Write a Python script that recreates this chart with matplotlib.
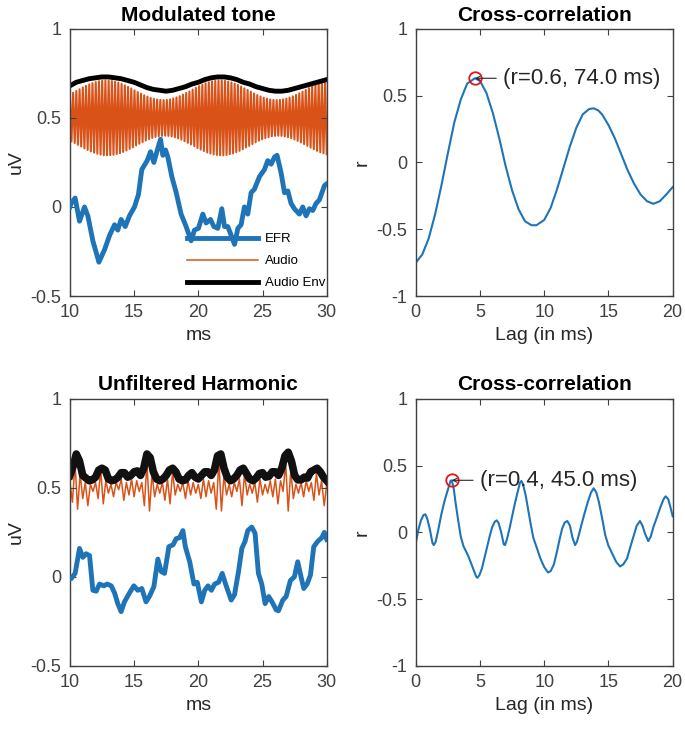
import numpy as np
import matplotlib
matplotlib.use('Agg')
import matplotlib.pyplot as plt

plt.rcParams['font.family'] = ['Liberation Sans', 'DejaVu Sans']
plt.rcParams['axes.unicode_minus'] = False

C_EFR = '#1F74B8'
C_AUDIO = '#D95319'
C_AX = '#404040'
C_TXT = '#262626'

# ---- top-left: modulated tone (ms, uV) ----
efr1_t = [10.0, 10.10, 10.41, 10.75, 11.14, 11.40, 11.79, 12.26, 12.70, 13.09, 13.48, 13.73,
          13.99, 14.31, 14.64, 15.03, 15.34, 15.60, 16.02, 16.28, 16.54, 16.85, 17.06, 17.24,
          17.45, 17.63, 17.94, 18.28, 18.66, 19.05, 19.44, 19.70, 20.01, 20.35, 20.61, 20.95,
          21.21, 21.52, 21.83, 22.04, 22.30, 22.56, 22.82, 23.08, 23.33, 23.59, 23.85, 24.11,
          24.37, 24.76, 25.15, 25.41, 25.67, 25.93, 26.13, 26.45, 26.71, 26.97, 27.22, 27.48,
          27.87, 28.13, 28.39, 28.65, 28.91, 29.17, 29.43, 29.82, 30.0]
efr1_v = [0.00, 0.02, 0.05, -0.08, 0.00, -0.05, -0.19, -0.31, -0.24, -0.16, -0.10, -0.13,
          -0.07, -0.11, -0.05, 0.00, 0.07, 0.21, 0.26, 0.31, 0.25, 0.33, 0.38, 0.29,
          0.32, 0.28, 0.17, 0.08, -0.04, -0.11, -0.19, -0.13, -0.12, -0.04, -0.09, -0.07,
          -0.11, -0.12, -0.01, -0.11, -0.11, -0.16, -0.21, -0.12, -0.10, 0.00, -0.04, 0.08,
          0.10, 0.17, 0.21, 0.26, 0.24, 0.28, 0.29, 0.19, 0.08, 0.09, 0.02, -0.01,
          -0.04, 0.00, -0.05, -0.01, -0.02, 0.02, 0.04, 0.12, 0.13]

# envelope every 0.5 ms
env1_v = [0.68, 0.70, 0.71, 0.72, 0.725, 0.73, 0.73, 0.725, 0.72, 0.71, 0.70, 0.685,
          0.67, 0.66, 0.655, 0.65, 0.655, 0.665, 0.675, 0.69, 0.70, 0.715, 0.725, 0.73,
          0.73, 0.725, 0.715, 0.70, 0.69, 0.675, 0.665, 0.655, 0.65, 0.65, 0.655, 0.665,
          0.675, 0.685, 0.695, 0.705, 0.715]

# half-swing of the carrier, one value per carrier cycle (0.25 ms)
audio1_amp = [0.132, 0.141, 0.151, 0.161, 0.171, 0.180, 0.188, 0.195, 0.201, 0.206,
              0.209, 0.210, 0.209, 0.207, 0.203, 0.198, 0.191, 0.183, 0.174, 0.165,
              0.155, 0.145, 0.136, 0.127, 0.119, 0.112, 0.107, 0.103, 0.101, 0.100,
              0.101, 0.104, 0.109, 0.115, 0.122, 0.131, 0.140, 0.149, 0.159, 0.169,
              0.178, 0.186, 0.194, 0.200, 0.205, 0.208, 0.210, 0.210, 0.208, 0.204,
              0.199, 0.192, 0.185, 0.176, 0.166, 0.157, 0.147, 0.137, 0.128, 0.120,
              0.113, 0.108, 0.103, 0.101, 0.100, 0.101, 0.104, 0.108, 0.114, 0.121,
              0.129, 0.138, 0.147, 0.157, 0.167, 0.176, 0.185, 0.193, 0.199, 0.204]
audio1_mid = 0.5

# ---- bottom-left: unfiltered harmonic ----
efr2_t = [10.0, 10.10, 10.41, 10.75, 11.01, 11.27, 11.53, 11.79, 12.05, 12.31, 12.65, 12.91,
          13.22, 13.48, 13.73, 13.99, 14.25, 14.64, 14.98, 15.29, 15.60, 15.93, 16.19, 16.54,
          16.85, 17.11, 17.37, 17.71, 18.03, 18.28, 18.54, 18.80, 18.99, 19.33, 19.66, 19.92,
          20.24, 20.50, 20.76, 21.02, 21.27, 21.58, 21.86, 22.17, 22.56, 22.82, 23.13, 23.39,
          23.64, 23.85, 24.16, 24.42, 24.68, 24.94, 25.20, 25.48, 25.74, 26.06, 26.24, 26.58,
          26.84, 27.17, 27.48, 27.74, 28.00, 28.21, 28.47, 28.73, 28.99, 29.30, 29.61, 29.82, 30.0]
efr2_v = [-0.01, -0.01, 0.02, 0.16, 0.11, 0.13, 0.12, -0.075, -0.08, -0.04, -0.05, -0.04,
          -0.05, -0.09, -0.15, -0.195, -0.14, -0.09, -0.05, -0.075, -0.065, -0.14, -0.11, -0.055,
          0.10, 0.03, 0.02, 0.17, 0.18, 0.215, 0.22, 0.26, 0.17, 0.085, -0.04, -0.03,
          -0.14, -0.075, -0.05, -0.075, -0.04, -0.03, 0.02, -0.05, -0.13, -0.10, 0.03, 0.16,
          0.20, 0.26, 0.28, 0.245, 0.02, -0.04, -0.15, -0.11, -0.14, -0.185, -0.19, -0.13,
          -0.11, -0.02, 0.00, 0.085, 0.00, -0.065, -0.04, 0.01, 0.17, 0.20, 0.22, 0.25, 0.21]

# envelope every 0.25 ms
env2_v = [0.57, 0.62, 0.69, 0.65, 0.57, 0.555, 0.54, 0.545, 0.56, 0.60, 0.61, 0.60,
          0.55, 0.54, 0.545, 0.56, 0.585, 0.585, 0.56, 0.57, 0.59, 0.595, 0.57, 0.61,
          0.69, 0.67, 0.59, 0.55, 0.54, 0.55, 0.57, 0.60, 0.61, 0.59, 0.55, 0.54,
          0.545, 0.57, 0.585, 0.56, 0.55, 0.57, 0.59, 0.59, 0.57, 0.60, 0.68, 0.69,
          0.61, 0.56, 0.54, 0.55, 0.57, 0.60, 0.61, 0.58, 0.55, 0.54, 0.555, 0.58,
          0.585, 0.56, 0.565, 0.59, 0.59, 0.57, 0.61, 0.68, 0.70, 0.65, 0.57, 0.545,
          0.545, 0.56, 0.555, 0.59, 0.60, 0.61, 0.59, 0.56, 0.54]

# audio every 0.2 ms
audio2_v = [0.53, 0.42, 0.64, 0.38, 0.58, 0.44, 0.53, 0.40, 0.52, 0.48,
            0.53, 0.44, 0.60, 0.41, 0.54, 0.47, 0.52, 0.45, 0.53, 0.49,
            0.55, 0.43, 0.53, 0.46, 0.55, 0.45, 0.54, 0.48, 0.53, 0.40,
            0.64, 0.37, 0.58, 0.45, 0.52, 0.47, 0.53, 0.43, 0.55, 0.41,
            0.59, 0.46, 0.52, 0.48, 0.53, 0.44, 0.54, 0.46, 0.53, 0.47,
            0.52, 0.44, 0.55, 0.45, 0.54, 0.47, 0.53, 0.38, 0.65, 0.37,
            0.57, 0.46, 0.52, 0.45, 0.53, 0.48, 0.55, 0.40, 0.58, 0.46,
            0.52, 0.47, 0.53, 0.42, 0.55, 0.46, 0.52, 0.47, 0.54, 0.45,
            0.55, 0.41, 0.54, 0.48, 0.64, 0.37, 0.60, 0.44, 0.52, 0.47,
            0.53, 0.45, 0.54, 0.48, 0.53, 0.43, 0.58, 0.46, 0.54, 0.40, 0.52]

# ---- cross-correlations (lag ms, r) ----
xc1_lag = [0.0, 0.5, 1.0, 1.5, 2.0, 2.5, 3.0, 3.5, 4.0, 4.6, 5.0, 5.5, 6.0, 6.5, 7.0,
           7.5, 8.0, 8.5, 9.0, 9.4, 10.0, 10.5, 11.0, 11.5, 12.0, 12.5, 13.0, 13.5,
           13.85, 14.2, 14.5, 15.0, 15.5, 16.0, 16.5, 17.0, 17.5, 18.0, 18.5, 19.0,
           19.5, 20.0]
xc1_r = [-0.75, -0.69, -0.57, -0.39, -0.17, 0.07, 0.30, 0.47, 0.59, 0.63, 0.61, 0.52,
         0.37, 0.18, -0.03, -0.21, -0.35, -0.44, -0.47, -0.47, -0.43, -0.34, -0.20, -0.04,
         0.12, 0.26, 0.36, 0.40, 0.405, 0.39, 0.36, 0.28, 0.18, 0.06, -0.06, -0.16, -0.24,
         -0.29, -0.31, -0.29, -0.24, -0.185]
xc1_label = '(r=0.6, 74.0 ms)'

xc2_lag = [0.0, 0.2, 0.4, 0.6, 0.75, 0.9, 1.1, 1.3, 1.4, 1.55, 1.75, 2.0, 2.25, 2.5, 2.7,
           2.8, 2.95, 3.1, 3.3, 3.5, 3.7, 3.9, 4.1, 4.3, 4.5, 4.7, 4.8, 4.95, 5.15, 5.35,
           5.55, 5.75, 5.95, 6.15, 6.3, 6.45, 6.65, 6.85, 6.95, 7.1, 7.3, 7.5, 7.7, 7.9,
           8.1, 8.22, 8.35, 8.55, 8.75, 8.95, 9.15, 9.4, 9.7, 10.0, 10.3, 10.5, 10.75, 11.0,
           11.2, 11.4, 11.6, 11.8, 12.0, 12.2, 12.4, 12.55, 12.8, 13.1, 13.4, 13.65, 13.85,
           14.05, 14.25, 14.5, 14.75, 15.0, 15.3, 15.6, 15.9, 16.15, 16.45, 16.7, 16.95,
           17.2, 17.45, 17.65, 17.85, 18.1, 18.3, 18.5, 18.8, 19.05, 19.3, 19.45, 19.65,
           19.85, 20.0]
xc2_r = [-0.08, 0.02, 0.09, 0.13, 0.135, 0.10, 0.02, -0.08, -0.095, -0.07, 0.02, 0.14,
         0.24, 0.32, 0.385, 0.39, 0.33, 0.22, 0.09, -0.03, -0.10, -0.14, -0.18, -0.23,
         -0.28, -0.33, -0.34, -0.32, -0.27, -0.19, -0.11, -0.03, 0.04, 0.08, 0.09, 0.07,
         0.00, -0.09, -0.095, -0.05, 0.03, 0.12, 0.21, 0.29, 0.37, 0.385, 0.36, 0.28,
         0.17, 0.06, -0.04, -0.11, -0.195, -0.26, -0.30, -0.29, -0.24, -0.14, -0.05, 0.03,
         0.075, 0.085, 0.05, -0.04, -0.095, -0.07, 0.02, 0.13, 0.23, 0.30, 0.33, 0.30,
         0.23, 0.11, -0.02, -0.10, -0.16, -0.22, -0.255, -0.24, -0.195, -0.11, -0.03, 0.05,
         0.085, 0.05, -0.01, -0.065, -0.03, 0.04, 0.12, 0.19, 0.25, 0.27, 0.25, 0.18, 0.12]
xc2_label = '(r=0.4, 45.0 ms)'

uv_ticks = [-0.5, 0, 0.5, 1]
uv_labels = ['-0.5', '0', '0.5', '1']
r_ticks = [-1, -0.5, 0, 0.5, 1]
r_labels = ['-1', '-0.5', '0', '0.5', '1']


def style(ax, xt, yt, ylab):
    ax.set_xticks(xt)
    ax.set_xticklabels([str(v) for v in xt])
    ax.set_yticks(yt)
    ax.set_yticklabels(ylab)
    ax.tick_params(direction='in', top=True, right=True, length=4, width=0.8,
                   colors=C_AX, labelsize=13, pad=6)
    for s in ax.spines.values():
        s.set_color(C_AX)
        s.set_linewidth(1.0)


fig = plt.figure(figsize=(6.85, 7.3), dpi=100)
axw, axh = 0.375, 0.366
ax1 = fig.add_axes([0.102, 0.5945, axw, axh])
ax2 = fig.add_axes([0.607, 0.5945, axw, axh])
ax3 = fig.add_axes([0.102, 0.0877, axw, axh])
ax4 = fig.add_axes([0.607, 0.0877, axw, axh])

# top-left
amp = np.array(audio1_amp)
audio1 = np.empty(2 * len(amp))
audio1[0::2] = audio1_mid + amp
audio1[1::2] = audio1_mid - amp
t_audio1 = np.linspace(10, 30, len(audio1))
t_env1 = np.linspace(10, 30, len(env1_v))
l_efr, = ax1.plot(efr1_t, efr1_v, color=C_EFR, lw=3.5, label='EFR', zorder=3)
l_aud, = ax1.plot(t_audio1, audio1, color=C_AUDIO, lw=1.5, label='Audio', zorder=1)
l_env, = ax1.plot(t_env1, env1_v, color='black', lw=3.5, label='Audio Env', zorder=2)
ax1.set_xlim(10, 30)
ax1.set_ylim(-0.5, 1)
style(ax1, [10, 15, 20, 25, 30], uv_ticks, uv_labels)
ax1.set_xlabel('ms', fontsize=14, color=C_TXT)
ax1.set_ylabel('uV', fontsize=14, color=C_TXT)
ax1.set_title('Modulated tone', fontsize=15, fontweight='bold', pad=6)
leg = ax1.legend(handles=[l_efr, l_aud, l_env], loc='lower left', bbox_to_anchor=(0.42, -0.01),
                 frameon=False, fontsize=9.5, handlelength=5.4, handletextpad=0.5,
                 labelspacing=0.75, borderpad=0.2)
leg.get_lines()[1].set_linewidth(1.1)

# bottom-left
t_env2 = np.linspace(10, 30, len(env2_v))
t_audio2 = np.linspace(10, 30, len(audio2_v))
ax3.plot(efr2_t, efr2_v, color=C_EFR, lw=3.5, zorder=3)
ax3.plot(t_audio2, audio2_v, color=C_AUDIO, lw=1.1, zorder=1)
ax3.plot(t_env2, env2_v, color='#111111', lw=5.5, zorder=2)
ax3.set_xlim(10, 30)
ax3.set_ylim(-0.5, 1)
style(ax3, [10, 15, 20, 25, 30], uv_ticks, uv_labels)
ax3.set_xlabel('ms', fontsize=14, color=C_TXT)
ax3.set_ylabel('uV', fontsize=14, color=C_TXT)
ax3.set_title('Unfiltered Harmonic', fontsize=15, fontweight='bold', pad=6)

# cross-correlations
for ax, lag, r, lab, tx in [(ax2, xc1_lag, xc1_r, xc1_label, 6.8),
                            (ax4, xc2_lag, xc2_r, xc2_label, 5.0)]:
    ax.plot(lag, r, color=C_EFR, lw=1.5)
    i = int(np.argmax(r))
    ax.plot(lag[i], r[i], 'o', mfc='none', mec='#E8141B', ms=9, mew=1.3)
    ax.annotate(lab, xy=(lag[i], r[i]), xytext=(tx, r[i]), fontsize=16,
                color=C_TXT, ha='left', va='center',
                arrowprops=dict(arrowstyle='->', color=C_TXT, lw=0.8,
                                shrinkA=3, shrinkB=0, mutation_scale=7))
    ax.set_xlim(0, 20)
    ax.set_ylim(-1, 1)
    style(ax, [0, 5, 10, 15, 20], r_ticks, r_labels)
    ax.set_xlabel('Lag (in ms)', fontsize=14, color=C_TXT)
    ax.set_ylabel('r', fontsize=14, color=C_TXT)
    ax.set_title('Cross-correlation', fontsize=15, fontweight='bold', pad=6)

fig.savefig('out.png', dpi=100)
